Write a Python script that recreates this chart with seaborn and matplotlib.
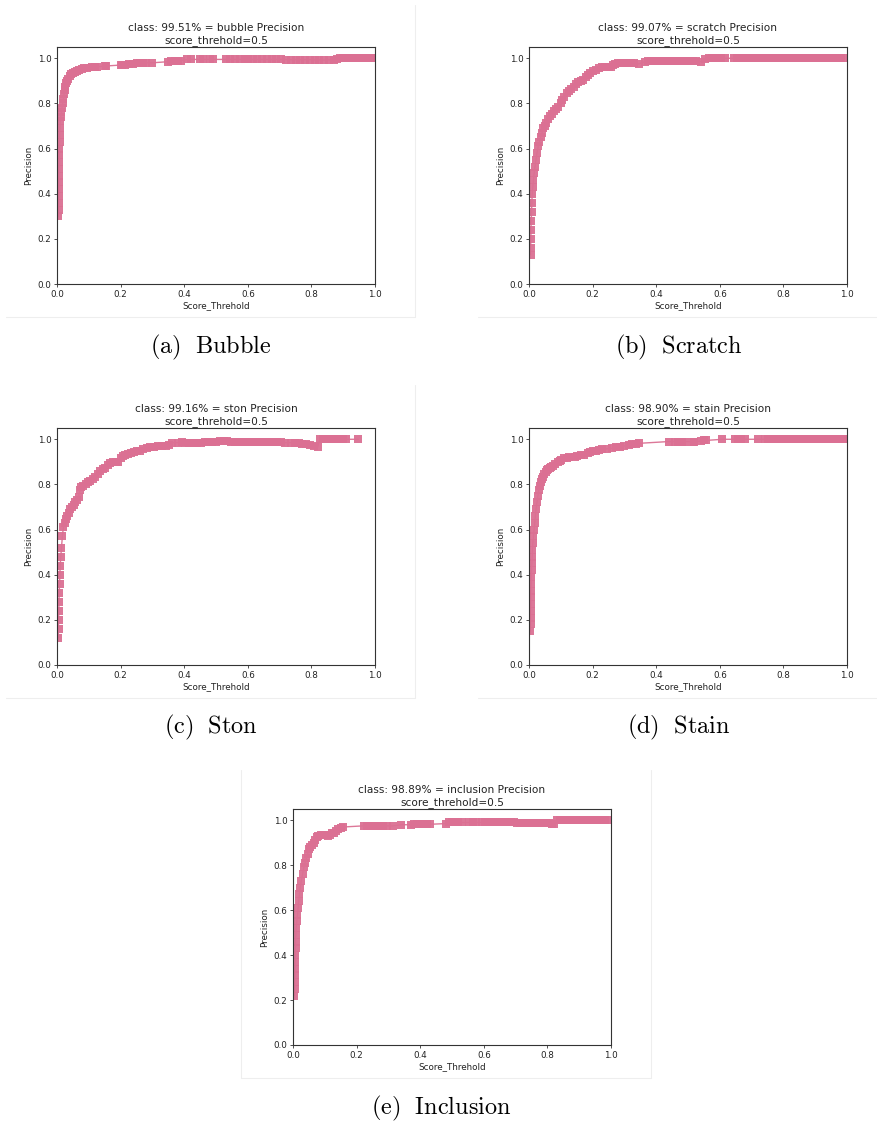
import matplotlib
matplotlib.use("Agg")
import matplotlib.pyplot as plt
import seaborn as sns
import pandas as pd
from matplotlib.lines import Line2D

sns.set_theme(style="white")
plt.rcParams['font.family'] = ['DejaVu Sans']
plt.rcParams['mathtext.fontset'] = 'cm'

# ---------------- data ----------------
bubble_x = [0.004, 0.005, 0.005, 0.005, 0.006, 0.006, 0.006, 0.006, 0.007, 0.007, 0.007, 0.008, 0.008, 0.009,
            0.010, 0.012, 0.014, 0.016, 0.018, 0.020, 0.022, 0.024, 0.026, 0.029, 0.032, 0.036, 0.040, 0.045,
            0.050, 0.056, 0.062, 0.070, 0.078, 0.085, 0.095, 0.110, 0.120, 0.125, 0.150, 0.155, 0.200, 0.205,
            0.215, 0.225, 0.240, 0.250, 0.260, 0.270, 0.280, 0.300, 0.350, 0.360, 0.370, 0.380, 0.390, 0.410,
            0.420, 0.450, 0.460, 0.480, 0.490, 0.530, 0.545, 0.560, 0.575, 0.590, 0.600, 0.615, 0.630, 0.645,
            0.660, 0.675, 0.690, 0.705, 0.720, 0.735, 0.750, 0.765, 0.780, 0.795, 0.810, 0.825, 0.840, 0.855,
            0.870, 0.880, 0.890, 0.900, 0.912, 0.925, 0.937, 0.950, 0.962, 0.975, 0.987, 0.998]
bubble_y = [0.30, 0.33, 0.36, 0.39, 0.42, 0.45, 0.48, 0.51, 0.54, 0.57, 0.60, 0.63, 0.66, 0.69,
            0.72, 0.74, 0.76, 0.78, 0.80, 0.82, 0.84, 0.86, 0.875, 0.89, 0.90, 0.91, 0.92, 0.93,
            0.935, 0.94, 0.945, 0.95, 0.953, 0.955, 0.957, 0.960, 0.962, 0.963, 0.965, 0.966, 0.970, 0.970,
            0.972, 0.975, 0.976, 0.977, 0.978, 0.980, 0.980, 0.980, 0.985, 0.987, 0.988, 0.990, 0.990, 0.995,
            0.995, 0.995, 0.995, 0.995, 0.995, 0.995, 0.995, 0.995, 0.995, 0.995, 0.995, 0.995, 0.995, 0.995,
            0.995, 0.995, 0.995, 0.995, 0.994, 0.994, 0.994, 0.994, 0.994, 0.994, 0.993, 0.993, 0.992, 0.993,
            0.993, 0.995, 1.0, 1.0, 1.0, 1.0, 1.0, 1.0, 1.0, 1.0, 1.0, 1.0]

scratch_x = [0.005, 0.005, 0.006, 0.006, 0.007, 0.008, 0.009, 0.010, 0.012, 0.014, 0.016, 0.019, 0.022, 0.025,
             0.029, 0.033, 0.037, 0.041, 0.045, 0.050, 0.055, 0.060, 0.066, 0.072, 0.078, 0.085, 0.092, 0.100,
             0.105, 0.110, 0.118, 0.125, 0.132, 0.140, 0.148, 0.155, 0.162, 0.170, 0.178, 0.185, 0.192, 0.200,
             0.210, 0.220, 0.230, 0.240, 0.250, 0.258, 0.265, 0.272, 0.280, 0.290, 0.300, 0.310, 0.320, 0.330,
             0.345, 0.365, 0.375, 0.385, 0.395, 0.405, 0.415, 0.425, 0.435, 0.445, 0.455, 0.465, 0.475, 0.485,
             0.495, 0.505, 0.515, 0.525, 0.540, 0.555, 0.565, 0.575, 0.585, 0.595, 0.605, 0.615, 0.645, 0.655,
             0.668, 0.680, 0.692, 0.705, 0.718, 0.730, 0.742, 0.755, 0.768, 0.780, 0.792, 0.805, 0.818, 0.830,
             0.842, 0.855, 0.868, 0.880, 0.892, 0.905, 0.918, 0.930, 0.942, 0.955, 0.968, 0.980, 0.990]
scratch_y = [0.13, 0.16, 0.20, 0.24, 0.28, 0.32, 0.36, 0.40, 0.43, 0.46, 0.49, 0.52, 0.55, 0.58,
             0.61, 0.63, 0.65, 0.67, 0.69, 0.70, 0.715, 0.73, 0.745, 0.755, 0.765, 0.775, 0.785, 0.80,
             0.815, 0.83, 0.845, 0.855, 0.865, 0.875, 0.885, 0.895, 0.90, 0.905, 0.915, 0.925, 0.935, 0.945,
             0.95, 0.955, 0.96, 0.962, 0.962, 0.96, 0.97, 0.975, 0.978, 0.978, 0.978, 0.978, 0.978, 0.978,
             0.975, 0.985, 0.988, 0.99, 0.99, 0.99, 0.99, 0.99, 0.99, 0.99, 0.99, 0.99, 0.99, 0.99,
             0.99, 0.99, 0.99, 0.988, 0.985, 0.998, 1.0, 1.0, 1.0, 1.0, 1.0, 1.0, 1.0, 1.0,
             1.0, 1.0, 1.0, 1.0, 1.0, 1.0, 1.0, 1.0, 1.0, 1.0, 1.0, 1.0, 1.0, 1.0,
             1.0, 1.0, 1.0, 1.0, 1.0, 1.0, 1.0, 1.0, 1.0, 1.0, 1.0, 1.0, 1.0]

ston_x = [0.004, 0.005, 0.005, 0.006, 0.006, 0.007, 0.008, 0.009, 0.010, 0.012, 0.014, 0.017, 0.020, 0.024,
          0.028, 0.032, 0.037, 0.042, 0.047, 0.052, 0.058, 0.064, 0.068, 0.072, 0.076, 0.082, 0.090, 0.098,
          0.105, 0.112, 0.120, 0.128, 0.136, 0.144, 0.152, 0.160, 0.168, 0.176, 0.184, 0.192, 0.200, 0.206,
          0.214, 0.222, 0.232, 0.242, 0.252, 0.262, 0.272, 0.282, 0.292, 0.305, 0.318, 0.330, 0.342, 0.352,
          0.362, 0.380, 0.392, 0.404, 0.416, 0.428, 0.440, 0.452, 0.464, 0.476, 0.488, 0.500, 0.512, 0.524,
          0.536, 0.548, 0.560, 0.572, 0.584, 0.596, 0.608, 0.620, 0.632, 0.644, 0.656, 0.668, 0.680, 0.692,
          0.704, 0.716, 0.735, 0.748, 0.760, 0.772, 0.784, 0.796, 0.808, 0.820, 0.826, 0.838, 0.850, 0.862,
          0.874, 0.886, 0.898, 0.910, 0.948]
ston_y = [0.12, 0.16, 0.20, 0.24, 0.28, 0.32, 0.36, 0.40, 0.44, 0.48, 0.52, 0.57, 0.61, 0.63,
          0.645, 0.66, 0.675, 0.69, 0.70, 0.71, 0.72, 0.73, 0.745, 0.775, 0.79, 0.795, 0.80, 0.81,
          0.815, 0.825, 0.835, 0.845, 0.86, 0.87, 0.875, 0.885, 0.895, 0.90, 0.90, 0.90, 0.915, 0.925,
          0.93, 0.935, 0.94, 0.945, 0.948, 0.95, 0.955, 0.96, 0.965, 0.968, 0.97, 0.97, 0.972, 0.975,
          0.985, 0.985, 0.986, 0.985, 0.984, 0.983, 0.983, 0.984, 0.986, 0.99, 0.99, 0.99, 0.991, 0.991,
          0.991, 0.99, 0.99, 0.989, 0.989, 0.988, 0.988, 0.988, 0.988, 0.988, 0.989, 0.988, 0.987, 0.986,
          0.986, 0.985, 0.985, 0.983, 0.982, 0.98, 0.978, 0.975, 0.97, 0.965, 1.0, 1.0, 1.0, 1.0,
          1.0, 1.0, 1.0, 1.0, 1.0]

stain_x = [0.004, 0.005, 0.005, 0.005, 0.006, 0.006, 0.006, 0.007, 0.007, 0.008, 0.009, 0.010, 0.011, 0.012,
           0.014, 0.016, 0.018, 0.020, 0.022, 0.025, 0.028, 0.031, 0.034, 0.037, 0.040, 0.044, 0.048, 0.052,
           0.056, 0.060, 0.065, 0.070, 0.075, 0.082, 0.090, 0.096, 0.102, 0.110, 0.118, 0.125, 0.145, 0.152,
           0.165, 0.172, 0.185, 0.192, 0.200, 0.210, 0.220, 0.230, 0.245, 0.262, 0.275, 0.285, 0.300, 0.315,
           0.325, 0.335, 0.345, 0.440, 0.460, 0.470, 0.480, 0.490, 0.515, 0.520, 0.540, 0.550, 0.558, 0.608,
           0.648, 0.658, 0.668, 0.678, 0.720, 0.742, 0.752, 0.762, 0.772, 0.782, 0.792, 0.802, 0.812, 0.822,
           0.832, 0.842, 0.852, 0.862, 0.872, 0.882, 0.892, 0.902, 0.912, 0.922, 0.932, 0.942, 0.952, 0.962,
           0.972, 0.982, 0.992, 0.999]
stain_y = [0.15, 0.18, 0.21, 0.24, 0.27, 0.30, 0.33, 0.36, 0.39, 0.42, 0.45, 0.48, 0.51, 0.54,
           0.57, 0.60, 0.63, 0.66, 0.69, 0.72, 0.75, 0.775, 0.795, 0.81, 0.825, 0.835, 0.845, 0.855,
           0.865, 0.87, 0.875, 0.878, 0.88, 0.89, 0.90, 0.905, 0.91, 0.915, 0.918, 0.92, 0.922, 0.925,
           0.93, 0.932, 0.94, 0.945, 0.948, 0.95, 0.952, 0.955, 0.958, 0.96, 0.965, 0.968, 0.97, 0.975,
           0.978, 0.98, 0.982, 0.99, 0.99, 0.99, 0.99, 0.99, 0.99, 0.99, 0.992, 0.995, 0.995, 1.0,
           1.0, 1.0, 1.0, 1.0, 1.0, 1.0, 1.0, 1.0, 1.0, 1.0, 1.0, 1.0, 1.0, 1.0,
           1.0, 1.0, 1.0, 1.0, 1.0, 1.0, 1.0, 1.0, 1.0, 1.0, 1.0, 1.0, 1.0, 1.0,
           1.0, 1.0, 1.0, 1.0]

inclusion_x = [0.004, 0.005, 0.005, 0.006, 0.006, 0.007, 0.007, 0.008, 0.008, 0.009, 0.010, 0.012, 0.014, 0.016,
               0.018, 0.020, 0.023, 0.026, 0.030, 0.034, 0.038, 0.042, 0.046, 0.050, 0.055, 0.060, 0.065, 0.070,
               0.075, 0.080, 0.088, 0.095, 0.102, 0.110, 0.115, 0.122, 0.130, 0.136, 0.142, 0.150, 0.158, 0.222,
               0.232, 0.242, 0.255, 0.265, 0.275, 0.282, 0.295, 0.315, 0.340, 0.370, 0.380, 0.390, 0.400, 0.410,
               0.420, 0.430, 0.480, 0.490, 0.500, 0.510, 0.520, 0.530, 0.555, 0.565, 0.575, 0.595, 0.605, 0.615,
               0.625, 0.635, 0.645, 0.655, 0.665, 0.675, 0.685, 0.695, 0.705, 0.715, 0.725, 0.735, 0.745, 0.755,
               0.765, 0.775, 0.785, 0.795, 0.805, 0.815, 0.822, 0.830, 0.840, 0.850, 0.860, 0.870, 0.880, 0.890,
               0.900, 0.910, 0.920, 0.930, 0.940, 0.950, 0.960, 0.970, 0.980, 0.990]
inclusion_y = [0.22, 0.25, 0.28, 0.31, 0.34, 0.37, 0.40, 0.43, 0.46, 0.49, 0.52, 0.55, 0.58, 0.61,
               0.64, 0.67, 0.70, 0.73, 0.76, 0.79, 0.81, 0.83, 0.85, 0.87, 0.88, 0.89, 0.90, 0.91,
               0.925, 0.93, 0.935, 0.935, 0.935, 0.93, 0.935, 0.945, 0.945, 0.95, 0.96, 0.965, 0.97, 0.975,
               0.975, 0.975, 0.975, 0.974, 0.975, 0.975, 0.975, 0.975, 0.98, 0.98, 0.982, 0.982, 0.982, 0.982,
               0.982, 0.982, 0.985, 0.99, 0.99, 0.99, 0.99, 0.99, 0.99, 0.99, 0.99, 0.99, 0.99, 0.99,
               0.99, 0.99, 0.99, 0.99, 0.99, 0.99, 0.99, 0.99, 0.988, 0.988, 0.988, 0.988, 0.988, 0.988,
               0.988, 0.988, 0.987, 0.987, 0.986, 0.985, 0.985, 1.0, 1.0, 1.0, 1.0, 1.0, 1.0, 1.0,
               1.0, 1.0, 1.0, 1.0, 1.0, 1.0, 1.0, 1.0, 1.0, 1.0]

class_names = ["bubble", "scratch", "ston", "stain", "inclusion"]
class_ap = ["99.51%", "99.07%", "99.16%", "98.90%", "98.89%"]
captions = ["(a)\\ \\ Bubble", "(b)\\ \\ Scratch", "(c)\\ \\ Ston", "(d)\\ \\ Stain", "(e)\\ \\ Inclusion"]
series_x = [bubble_x, scratch_x, ston_x, stain_x, inclusion_x]
series_y = [bubble_y, scratch_y, ston_y, stain_y, inclusion_y]
tick_vals = [0.0, 0.2, 0.4, 0.6, 0.8, 1.0]

# ---------------- layout ----------------
W, H = 877, 1122
fig = plt.figure(figsize=(W / 100, H / 100), dpi=100)
fig.patch.set_facecolor("white")

# axes boxes in pixels: left, top, right, bottom
boxes = [(57, 47, 375, 284), (529, 47, 847, 284),
         (57, 428, 375, 665), (529, 428, 847, 665),
         (293, 809, 611, 1045)]
caption_pos = [(211, 347), (679, 347), (211, 727), (679, 727), (441, 1108)]
line_color = "#DB7093"

for i in range(5):
    l, t, r, b = boxes[i]
    ax = fig.add_axes([l / W, 1 - b / H, (r - l) / W, (b - t) / H])
    df = pd.DataFrame({"Score_Threhold": series_x[i], "Precision": series_y[i]})
    sns.lineplot(data=df, x="Score_Threhold", y="Precision", ax=ax, estimator=None, sort=False,
                 color=line_color, linewidth=1.0, marker="s", markersize=5.3,
                 markeredgewidth=0, alpha=0.95)
    ax.set_xlim(0, 1.0)
    ax.set_ylim(0, 1.05)
    ax.set_xticks(tick_vals)
    ax.set_yticks(tick_vals)
    ax.set_xticklabels([f"{v:.1f}" for v in tick_vals], fontsize=6.3, color="#222222")
    ax.set_yticklabels([f"{v:.1f}" for v in tick_vals], fontsize=6.3, color="#222222")
    ax.tick_params(axis="both", which="both", direction="out", length=2.5, width=0.6,
                   color="#333333", pad=1.5, bottom=True, left=True)
    for sp in ax.spines.values():
        sp.set_visible(True)
        sp.set_color("#333333")
        sp.set_linewidth(0.8)
    ax.set_xlabel("Score_Threhold", fontsize=6.3, color="#222222", labelpad=1.5)
    ax.set_ylabel("Precision", fontsize=6.3, color="#222222", labelpad=3)
    ax.set_title(f"class: {class_ap[i]} = {class_names[i]} Precision\nscore_threhold=0.5",
                 fontsize=7.6, color="#222222", pad=3, linespacing=1.25)
    ax.grid(False)
    cx, cy = caption_pos[i]
    fig.text(cx / W, 1 - cy / H, "$\\mathrm{" + captions[i] + "}$", fontsize=17.5,
             ha="center", va="center", color="black")

# faint image borders
faint = "#eeeeee"
for (x0, x1, y) in [(6, 415, 317), (478, 877, 317), (6, 415, 698), (478, 877, 698), (241, 651, 1078)]:
    fig.add_artist(Line2D([x0 / W, x1 / W], [1 - y / H, 1 - y / H], color=faint, linewidth=0.8))
for (x, y0, y1) in [(415, 5, 317), (415, 385, 698), (651, 770, 1078), (241, 770, 1078)]:
    fig.add_artist(Line2D([x / W, x / W], [1 - y0 / H, 1 - y1 / H], color=faint, linewidth=0.8))

fig.savefig("out.png", dpi=100, facecolor="white")
